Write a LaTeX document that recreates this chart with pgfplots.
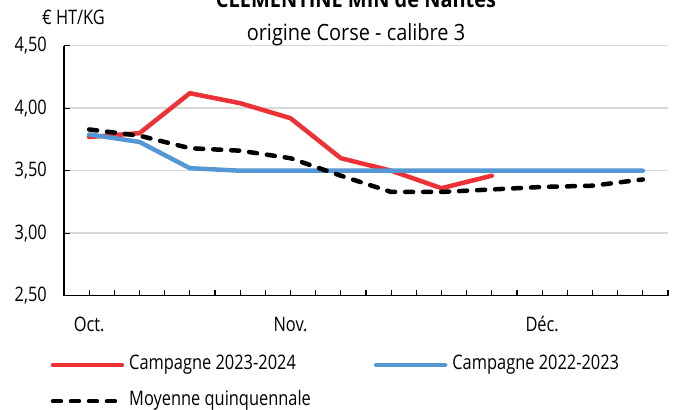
\documentclass[border=0pt]{standalone}
\usepackage{fontspec}
\setmainfont{Open Sans}[FakeStretch=0.82]
\newfontfamily\titfont{Open Sans}[FakeStretch=0.89]
\usepackage{pgfplots}
\pgfplotsset{compat=1.18}
\definecolor{cred}{RGB}{237,50,55}
\definecolor{cblue}{RGB}{84,151,211}
\definecolor{cgrid}{RGB}{217,217,217}
\begin{document}
\fontsize{20bp}{24bp}\selectfont
\begin{tikzpicture}
\path[use as bounding box] (-64bp,-114.3bp) rectangle (623bp,295.7bp);
\begin{axis}[
  at={(0,0)}, anchor=south west,
  scale only axis, width=604bp, height=250bp,
  xmin=-0.5, xmax=11.5, ymin=2.5, ymax=4.5,
  axis x line=bottom, axis y line=left,
  axis line style={black, line width=1.5bp, -},
  xtick={0,4,9}, xticklabels={Oct.,Nov.,Déc.},
  minor xtick={-0.5,0,...,11.5},
  ytick={2.5,3,3.5,4,4.5},
  tick align=inside,
  major tick length=6bp, minor tick length=6bp,
  tick style={black, line width=1.2bp},
  ymajorgrids, grid style={cgrid, line width=1.5bp},
  /pgf/number format/.cd, use comma, fixed, fixed zerofill, precision=2, assume math mode=true,
  /pgfplots/.cd,
  tick label style={font=\fontsize{20bp}{24bp}\selectfont},
  xticklabel style={inner sep=0pt, text height=14bp, text depth=5bp, yshift=-21.4bp},
  yticklabel style={inner sep=0pt, xshift=-17bp},
  clip=false,
  legend columns=2,
  legend cell align=left,
  legend style={draw=none, fill=none, at={(0,0)}, anchor=north west, xshift=-13.5bp, yshift=-59.8bp,
    font=\fontsize{20bp}{24bp}\selectfont, inner sep=0pt, row sep=17bp,
    nodes={inner sep=0pt, text height=14bp, text depth=5bp}},
  /tikz/every odd column/.append style={column sep=5bp},
  /tikz/every even column/.append style={column sep=63bp},
  legend image code/.code={\draw[#1] (0bp,0bp) -- (69bp,0bp);},
]
\addplot[cred, line width=4.5bp, line cap=round, line join=round] coordinates {
(0,3.77)(1,3.80)(2,4.12)(3,4.04)(4,3.92)(5,3.60)(6,3.50)(7,3.36)(8,3.46)};
\addlegendentry{Campagne 2023-2024}
\addplot[cblue, line width=4.5bp, line cap=round, line join=round] coordinates {
(0,3.79)(1,3.73)(2,3.52)(3,3.50)(4,3.50)(5,3.50)(6,3.50)(7,3.50)(8,3.50)(9,3.50)(10,3.50)(11,3.50)};
\addlegendentry{Campagne 2022-2023}
\addplot[black, line width=4.5bp, line cap=round, line join=round, dash pattern=on 8bp off 10bp] coordinates {
(0,3.83)(1,3.78)(2,3.68)(3,3.66)(4,3.60)(5,3.46)(6,3.33)(7,3.33)(8,3.35)(9,3.37)(10,3.38)(11,3.43)};
\addlegendentry{Moyenne quinquennale}
\end{axis}
\node[anchor=base, font=\titfont\fontsize{22.4bp}{26bp}\selectfont\bfseries] at (292bp,288.2bp) {CLEMENTINE MIN de Nantes};
\node[anchor=base, font=\titfont\fontsize{22.4bp}{26bp}\selectfont] at (292bp,254.7bp) {origine Corse - calibre 3};
\node[anchor=base, font=\fontsize{20bp}{24bp}\selectfont] at (9.5bp,270.7bp) {€ HT/KG};
\end{tikzpicture}
\end{document}
